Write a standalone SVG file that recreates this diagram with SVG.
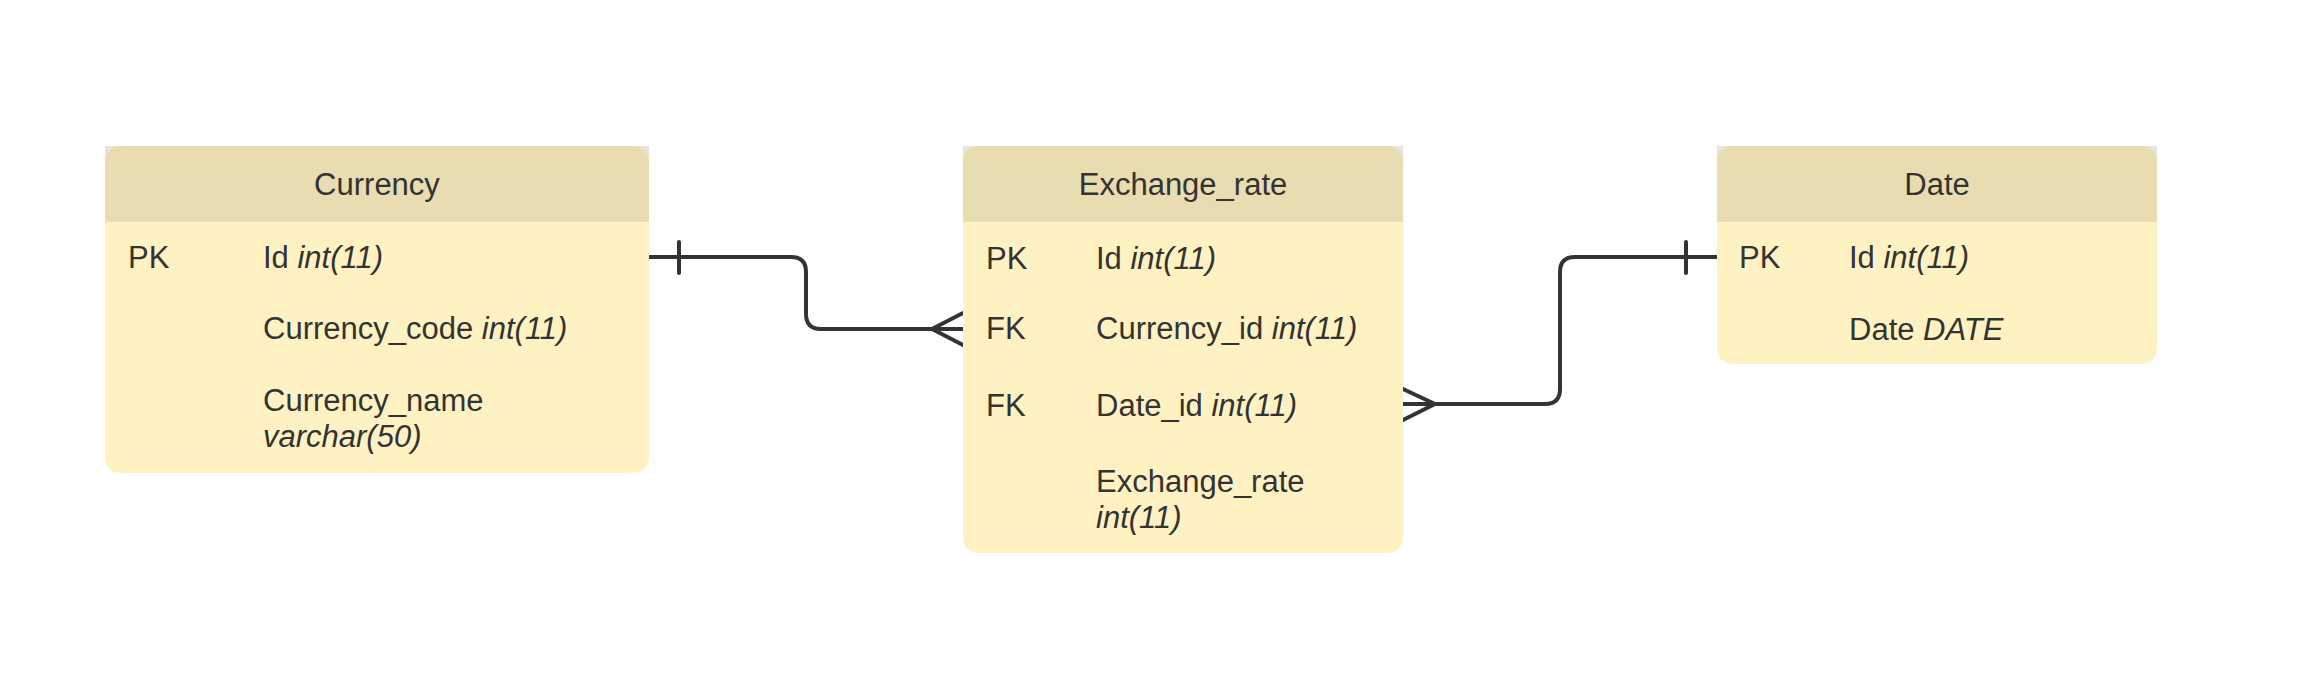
<svg xmlns="http://www.w3.org/2000/svg" width="2310" height="676" viewBox="0 0 2310 676">
<style>
.body{fill:#fff2c2}
.head{fill:#e8ddb0}
.corner{fill:#e4e4e4}
text{font-family:"Liberation Sans",Arial,sans-serif;font-size:31px;fill:#333}
.t{text-anchor:middle}
.i{font-style:italic}
.conn{fill:none;stroke:#333;stroke-width:4;stroke-linecap:round;stroke-linejoin:round}
</style>
<rect width="2310" height="676" fill="#fff"/>
<g id="connectors">
<path class="conn" d="M649,257 H791 Q806,257 806,272 V314 Q806,329 821,329 H963"/>
<path class="conn" d="M679,242 V273"/>
<path class="conn" d="M963,313 L932,329 L963,345"/>
<path class="conn" d="M1403,404 H1545 Q1560,404 1560,389 V272 Q1560,257 1575,257 H1717"/>
<path class="conn" d="M1403,389 L1435,404 L1403,420"/>
<path class="conn" d="M1686,242 V273"/>
</g>
<g id="currency">
<rect class="corner" x="105" y="146" width="544" height="18"/>
<rect class="body" x="105" y="146" width="544" height="327" rx="15"/>
<path class="head" d="M105,222 V161 A15,15 0 0 1 120,146 H634 A15,15 0 0 1 649,161 V222 Z"/>
<text class="t" x="377" y="195">Currency</text>
<text x="128" y="268">PK</text>
<text x="263" y="268">Id <tspan class="i">int(11)</tspan></text>
<text x="263" y="339">Currency_code <tspan class="i">int(11)</tspan></text>
<text x="263" y="411">Currency_name</text>
<text x="263" y="447" class="i">varchar(50)</text>
</g>
<g id="exchange_rate">
<rect class="corner" x="963" y="146" width="440" height="18"/>
<rect class="body" x="963" y="146" width="440" height="407" rx="15"/>
<path class="head" d="M963,222 V161 A15,15 0 0 1 978,146 H1388 A15,15 0 0 1 1403,161 V222 Z"/>
<text class="t" x="1183" y="195">Exchange_rate</text>
<text x="986" y="269">PK</text>
<text x="1096" y="269">Id <tspan class="i">int(11)</tspan></text>
<text x="986" y="339">FK</text>
<text x="1096" y="339">Currency_id <tspan class="i">int(11)</tspan></text>
<text x="986" y="416">FK</text>
<text x="1096" y="416">Date_id <tspan class="i">int(11)</tspan></text>
<text x="1096" y="492">Exchange_rate</text>
<text x="1096" y="528" class="i">int(11)</text>
</g>
<g id="date">
<rect class="corner" x="1717" y="146" width="440" height="18"/>
<rect class="body" x="1717" y="146" width="440" height="218" rx="15"/>
<path class="head" d="M1717,222 V161 A15,15 0 0 1 1732,146 H2142 A15,15 0 0 1 2157,161 V222 Z"/>
<text class="t" x="1937" y="195">Date</text>
<text x="1739" y="268">PK</text>
<text x="1849" y="268">Id <tspan class="i">int(11)</tspan></text>
<text x="1849" y="340">Date <tspan class="i">DATE</tspan></text>
</g>
</svg>
